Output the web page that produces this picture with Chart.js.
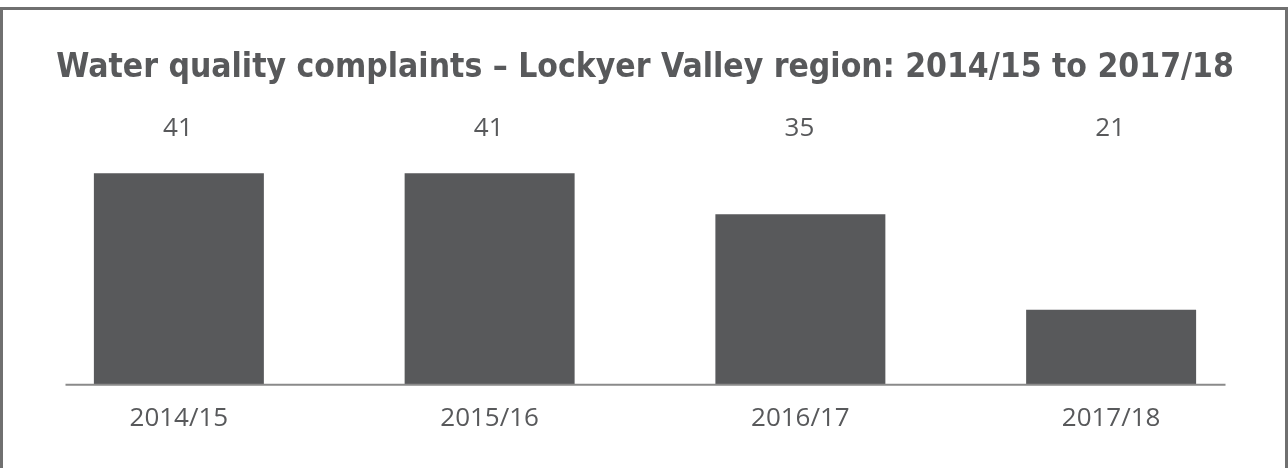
<!DOCTYPE html>
<html>
<head>
<meta charset="utf-8">
<script src="https://cdn.jsdelivr.net/npm/chart.js@4.4.1/dist/chart.umd.min.js"></script>
<style>
  body { margin: 0; background: #fff; }
  #wrap { position: relative; width: 1288px; height: 468px; overflow: hidden; }
  #frame {
    position: absolute; left: 0px; top: 7px; width: 1282px; height: 470px;
    border: 3px solid #707070; border-bottom: none; pointer-events: none;
  }
  canvas { position: absolute; left: 0; top: 0; }
</style>
</head>
<body>
<div id="wrap">
  <canvas id="complaints" width="1288" height="468"></canvas>
  <div id="frame"></div>
</div>
<script>
const years = ['2014/15', '2015/16', '2016/17', '2017/18'];
const complaints = [41, 41, 35, 21];

const grey = '#58595B';

// value labels sit on one row above the plot, not on top of each bar
const topLabels = {
    id: 'topLabels',
    afterDatasetsDraw(chart) {
        const ctx = chart.ctx;
        const area = chart.chartArea;
        const meta = chart.getDatasetMeta(0);
        ctx.save();
        ctx.font = '26px "Open Sans"';
        ctx.fillStyle = grey;
        ctx.textAlign = 'center';
        ctx.textBaseline = 'middle';
        meta.data.forEach((bar, i) => {
            ctx.fillText(String(complaints[i]), bar.x - 1, area.top - 17);
        });
        // baseline
        ctx.strokeStyle = '#8a8a8a';
        ctx.lineWidth = 2;
        ctx.beginPath();
        ctx.moveTo(area.left + 42, area.bottom);
        ctx.lineTo(area.right - 41, area.bottom);
        ctx.stroke();
        ctx.restore();
    }
};

const bar = document.getElementById('complaints').getContext('2d');

const waterChart = new Chart(bar, {
    type: 'bar',
    data: {
        labels: years,
        datasets: [{
            label: 'Water quality complaints',
            data: complaints,
            backgroundColor: grey,
            borderWidth: 0,
            barPercentage: 0.547,
            categoryPercentage: 1
        }]
    },
    options: {
        responsive: false,
        animation: false,
        devicePixelRatio: 1,
        layout: {
            padding: { left: 23.5, right: 21.5, top: 0, bottom: 16 }
        },
        plugins: {
            legend: { display: false },
            tooltip: { enabled: false },
            title: {
                display: true,
                text: 'Water quality complaints \u2013 Lockyer Valley region: 2014/15 to 2017/18',
                color: grey,
                font: { family: '"DejaVu Sans Condensed", "DejaVu Sans"', size: 33.4, weight: 'bold', lineHeight: 1.2 },
                padding: { top: 48, bottom: 58 }
            }
        },
        scales: {
            x: {
                offset: true,
                grid: { display: false, drawTicks: false },
                border: { display: false },
                ticks: {
                    color: grey,
                    font: { family: '"Open Sans"', size: 26 },
                    padding: 18
                }
            },
            y: {
                display: false,
                min: 10,
                max: 45
            }
        }
    },
    plugins: [topLabels]
});
</script>
</body>
</html>
